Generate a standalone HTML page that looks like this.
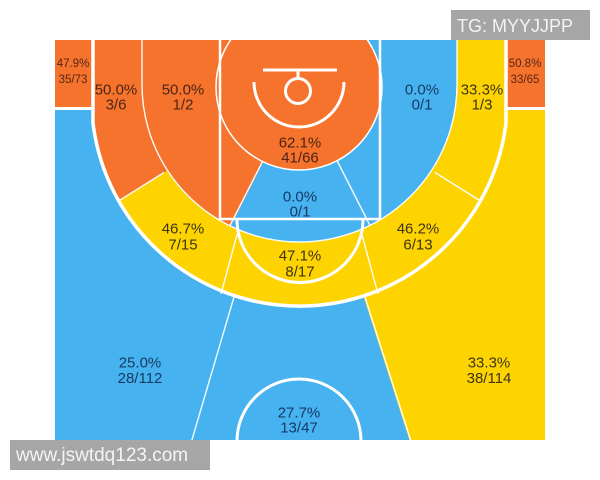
<!DOCTYPE html>
<html>
<head>
<meta charset="utf-8">
<style>
  html,body{margin:0;padding:0;background:#fff;}
  svg{display:block;}
  text{font-family:"Liberation Sans","DejaVu Sans",sans-serif;}
</style>
</head>
<body>
<svg width="600" height="480" viewBox="0 0 600 480" xmlns="http://www.w3.org/2000/svg">
  <defs>
    <clipPath id="court"><rect x="55" y="40" width="490" height="400"/></clipPath>
    <clipPath id="three"><path d="M93 30 L93 123 A208 208 0 0 0 506 123 L506 30 Z"/></clipPath>
    <clipPath id="inner"><path d="M142 30 L142 84.5 A157.5 157.5 0 0 0 457 84.5 L457 30 Z"/></clipPath>
  </defs>

  <g clip-path="url(#court)">
    <!-- base blue -->
    <rect x="55" y="40" width="490" height="400" fill="#46B2F0"/>
    <!-- right wing yellow -->
    <polygon points="300,98 419,470 560,470 560,30 300,30" fill="#FDD400"/>

    <!-- corner boxes -->
    <rect x="55" y="40" width="38" height="68" fill="#F5732D"/>
    <rect x="506" y="40" width="39" height="68" fill="#F5732D"/>

    <!-- inside three-point line -->
    <g clip-path="url(#three)">
      <rect x="55" y="30" width="490" height="300" fill="#FDD400"/>
      <polygon points="300,88 40,250 40,30 300,30" fill="#F5732D"/>
      <g clip-path="url(#inner)">
        <rect x="100" y="30" width="400" height="260" fill="#46B2F0"/>
        <polygon points="301,88 147,390 40,390 40,30 301,30" fill="#F5732D"/>
      </g>
    </g>

    <!-- restricted big circle -->
    <circle cx="299" cy="87" r="83" fill="#F5732D" stroke="#ffffff" stroke-width="1.5"/>

    <!-- thin zone lines -->
    <g stroke="#ffffff" stroke-width="1.4" fill="none" opacity="0.95">
      <path d="M142 40 L142 84.5 A157.5 157.5 0 0 0 457 84.5 L457 40"/>
      <line x1="164" y1="172.5" x2="118.5" y2="201"/>
      <line x1="435" y1="172.5" x2="480.5" y2="201"/>
      <line x1="262.5" y1="161.5" x2="230" y2="225.5"/>
      <line x1="337.5" y1="161.5" x2="370" y2="225.5"/>
      <line x1="238" y1="231" x2="221" y2="294"/>
      <line x1="361" y1="231" x2="378" y2="294"/>
      <line x1="234" y1="297" x2="186" y2="460"/>
      <line x1="365" y1="297" x2="417" y2="460"/>
    </g>

    <!-- court lines -->
    <g stroke="#ffffff" fill="none">
      <path d="M93 40 V123 A208 208 0 0 0 506 123 V40" stroke-width="3.5"/>
      <line x1="55" y1="108.5" x2="93" y2="108.5" stroke-width="3"/>
      <line x1="506" y1="108.5" x2="545" y2="108.5" stroke-width="3"/>
      <path d="M220 40 V219 H380 V40" stroke-width="2.5"/>
      <path d="M237 219.5 A63 63 0 0 0 363 219.5" stroke-width="3"/>
      <path d="M254 82 A45 45 0 0 0 344 82" stroke-width="3"/>
      <line x1="263" y1="70" x2="337" y2="70" stroke-width="3"/>
      <line x1="298" y1="70" x2="298" y2="79" stroke-width="3"/>
      <circle cx="298" cy="91" r="12.5" stroke-width="3"/>
      <circle cx="299" cy="441" r="62" stroke-width="3"/>
    </g>

    <!-- labels -->
    <g text-anchor="middle" font-size="11.5" fill="#5a2616">
      <text x="73" y="67">47.9%</text>
      <text x="73" y="83">35/73</text>
      <text x="525" y="67">50.8%</text>
      <text x="525" y="83">33/65</text>
    </g>
    <g text-anchor="middle" font-size="15">
      <g fill="#4d2416">
        <text x="116" y="94.5">50.0%</text>
        <text x="116" y="109.5">3/6</text>
        <text x="183" y="94.5">50.0%</text>
        <text x="183" y="109.5">1/2</text>
        <text x="300" y="147.5">62.1%</text>
        <text x="300" y="162.5">41/66</text>
      </g>
      <g fill="#163b63">
        <text x="422" y="94.5">0.0%</text>
        <text x="422" y="109.5">0/1</text>
        <text x="300" y="201.5">0.0%</text>
        <text x="300" y="216.5">0/1</text>
        <text x="140" y="367.5">25.0%</text>
        <text x="140" y="383">28/112</text>
        <text x="299" y="417.5">27.7%</text>
        <text x="299" y="432.5">13/47</text>
      </g>
      <g fill="#3d3418">
        <text x="482" y="94.5">33.3%</text>
        <text x="482" y="109.5">1/3</text>
        <text x="183" y="233.5">46.7%</text>
        <text x="183" y="249.5">7/15</text>
        <text x="300" y="260.5">47.1%</text>
        <text x="300" y="276.5">8/17</text>
        <text x="418" y="233.5">46.2%</text>
        <text x="418" y="249.5">6/13</text>
        <text x="489" y="367.5">33.3%</text>
        <text x="489" y="383">38/114</text>
      </g>
    </g>
  </g>

  <!-- watermarks -->
  <rect x="451" y="10" width="139" height="30" fill="#a6a6a6"/>
  <text x="457" y="32" font-size="18" fill="#f4f4f4">TG: MYYJJPP</text>
  <rect x="10" y="440" width="200" height="30" fill="#a6a6a6"/>
  <text x="16" y="461" font-size="19" fill="#f4f4f4">www.jswtdq123.com</text>
</svg>
</body>
</html>
